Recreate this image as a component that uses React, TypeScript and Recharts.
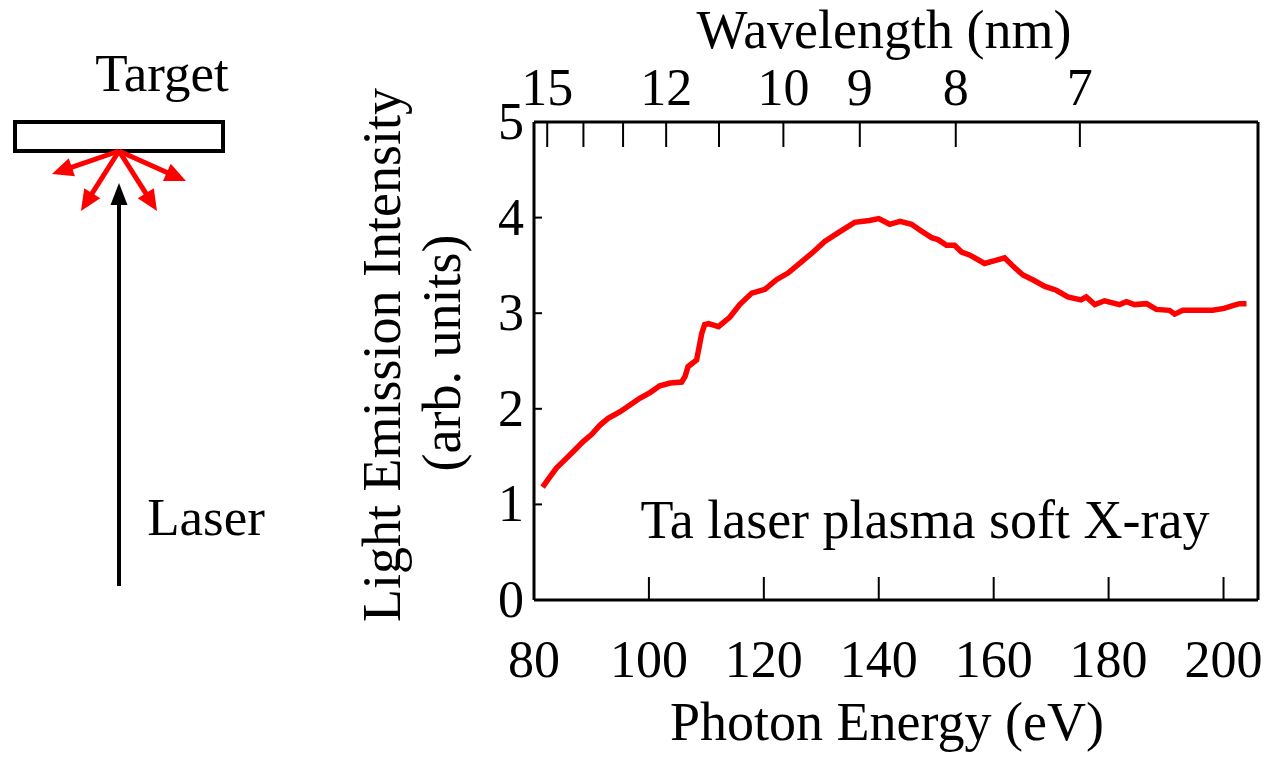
import { LineChart, Line, XAxis, YAxis, Customized } from 'recharts';

// photon energy (eV) and emission intensity (arb. units) of the Ta plasma spectrum
const energy = [
  81.5, 82.8, 83.9, 85.1, 86.8, 88.6, 90.0, 91.5, 92.9, 95.0, 96.7, 98.4, 100.2, 101.9, 103.7,
  105.7, 106.3, 106.8, 108.3, 109.2, 109.7, 110.4, 112.1, 114.1, 115.8, 117.9, 120.2, 122.2,
  124.2, 126.6, 128.6, 130.6, 132.9, 135.8, 138.4, 140.0, 141.9, 143.7, 145.7, 147.4, 149.2,
  150.3, 151.8, 153.2, 154.4, 155.8, 158.4, 160.2, 161.9, 163.4, 165.1, 166.8, 168.9, 170.9,
  172.9, 175.2, 176.1, 177.6, 179.3, 181.9, 183.1, 184.5, 186.6, 188.3, 190.6, 191.5, 192.9,
  195.8, 198.1, 200.1, 201.6, 202.8, 204.0,
];
const intensity = [
  1.18, 1.29, 1.38, 1.45, 1.55, 1.66, 1.73, 1.83, 1.9, 1.97, 2.04, 2.11, 2.17, 2.24, 2.27,
  2.28, 2.34, 2.44, 2.51, 2.79, 2.88, 2.89, 2.86, 2.96, 3.09, 3.21, 3.25, 3.35,
  3.42, 3.54, 3.64, 3.75, 3.84, 3.95, 3.97, 3.99, 3.93, 3.96, 3.93, 3.86, 3.79,
  3.77, 3.71, 3.71, 3.64, 3.61, 3.52, 3.55, 3.58, 3.49, 3.4, 3.35, 3.28, 3.24,
  3.17, 3.14, 3.17, 3.09, 3.13, 3.09, 3.12, 3.09, 3.1, 3.04, 3.03, 2.99, 3.03,
  3.03, 3.03, 3.05, 3.08, 3.1, 3.1,
];

const energyTicks = [80, 100, 120, 140, 160, 180, 200];
const intensityTicks = [0, 1, 2, 3, 4, 5];
// wavelength ticks on the top axis (nm) and where they sit on the energy scale (eV);
// only some of them carry a label
const wavelengthTicks = [15, 14, 13, 12, 11, 10, 9, 8, 7];
const wavelengthTickEnergy = [82.3, 88.6, 95.5, 103.0, 112.2, 123.4, 136.7, 153.4, 175.0];
const wavelengthLabels = [15, 12, 10, 9, 8, 7];

const data = energy.map((e, i) => ({ e, v: intensity[i] }));

const FONT = '"Liberation Serif", "Times New Roman", serif';
const FS = 52;
const TITLE_FS = 54;

const BottomTick = (props: any) => {
  const { x, y, payload } = props;
  return (
    <g>
      <line x1={x} y1={y} x2={x} y2={y - 23} stroke="#000" strokeWidth={2} />
      <text x={x} y={y + 77} textAnchor="middle" fontFamily={FONT} fontSize={FS} fill="#000">
        {payload.value}
      </text>
    </g>
  );
};

const TopTick = (props: any) => {
  const { x, y, payload } = props;
  const w = wavelengthTicks[wavelengthTickEnergy.indexOf(payload.value)];
  return (
    <g>
      <line x1={x} y1={y} x2={x} y2={y + 25} stroke="#000" strokeWidth={2} />
      {wavelengthLabels.includes(w) && (
        <text x={x} y={y - 17} textAnchor="middle" fontFamily={FONT} fontSize={FS} fill="#000">
          {w}
        </text>
      )}
    </g>
  );
};

const LeftTick = (props: any) => {
  const { x, y, payload } = props;
  return (
    <g>
      <line x1={x} y1={y} x2={x + 8} y2={y} stroke="#000" strokeWidth={2} />
      <text x={x - 10} y={y + 17} textAnchor="end" fontFamily={FONT} fontSize={FS} fill="#000">
        {payload.value}
      </text>
    </g>
  );
};

const Titles = () => (
  <g fontFamily={FONT} fontSize={TITLE_FS} fill="#000">
    <text x={884} y={48} textAnchor="middle">Wavelength (nm)</text>
    <text x={887} y={740} textAnchor="middle">Photon Energy (eV)</text>
    <text x={400} y={355} textAnchor="middle" transform="rotate(-90 400 355)">
      Light Emission Intensity
    </text>
    <text x={460} y={353} textAnchor="middle" transform="rotate(-90 460 353)">
      (arb. units)
    </text>
    <text x={925} y={538} textAnchor="middle">Ta laser plasma soft X-ray</text>
  </g>
);

// straight arrow with a filled triangular head
function Arrow({ x1, y1, x2, y2, color, width, head, headW }: any) {
  const dx = x2 - x1;
  const dy = y2 - y1;
  const len = Math.hypot(dx, dy);
  const ux = dx / len;
  const uy = dy / len;
  const bx = x2 - ux * head;
  const by = y2 - uy * head;
  const px = -uy * (headW / 2);
  const py = ux * (headW / 2);
  return (
    <g>
      <line x1={x1} y1={y1} x2={bx + ux * 2} y2={by + uy * 2} stroke={color} strokeWidth={width} />
      <polygon points={`${x2},${y2} ${bx + px},${by + py} ${bx - px},${by - py}`} fill={color} />
    </g>
  );
}

const Setup = () => (
  <svg
    width={1270}
    height={758}
    style={{ position: 'absolute', left: 0, top: 0, pointerEvents: 'none' }}
  >
    <text x={162} y={91} textAnchor="middle" fontFamily={FONT} fontSize={53} fill="#000">
      Target
    </text>
    <rect x={15} y={122} width={208} height={29} fill="none" stroke="#000" strokeWidth={4} />
    <Arrow x1={119} y1={151} x2={52} y2={174} color="#ff0000" width={5} head={21} headW={19} />
    <Arrow x1={119} y1={151} x2={81} y2={211} color="#ff0000" width={5} head={21} headW={19} />
    <Arrow x1={119} y1={151} x2={157} y2={211} color="#ff0000" width={5} head={21} headW={19} />
    <Arrow x1={119} y1={151} x2={186} y2={181} color="#ff0000" width={5} head={21} headW={19} />
    <Arrow x1={119} y1={586} x2={119} y2={183} color="#000" width={4} head={22} headW={17} />
    <text x={206} y={535} textAnchor="middle" fontFamily={FONT} fontSize={53} fill="#000">
      Laser
    </text>
  </svg>
);

export default function App() {
  return (
    <div style={{ position: 'absolute', left: 0, top: 0, width: 1270, height: 758, background: '#fff' }}>
      <LineChart width={1270} height={758} data={data} margin={{ top: 0, right: 0, bottom: 0, left: 0 }}>
        <XAxis
          xAxisId="bottom"
          dataKey="e"
          type="number"
          domain={[80, 206]}
          ticks={energyTicks}
          interval={0}
          allowDataOverflow
          height={158}
          tickSize={0}
          tickMargin={0}
          tickLine={false}
          axisLine={{ stroke: '#000', strokeWidth: 3 }}
          tick={<BottomTick />}
        />
        <XAxis
          xAxisId="top"
          dataKey="e"
          orientation="top"
          type="number"
          domain={[80, 206]}
          ticks={wavelengthTickEnergy}
          interval={0}
          allowDataOverflow
          height={122}
          tickSize={0}
          tickMargin={0}
          tickLine={false}
          axisLine={{ stroke: '#000', strokeWidth: 3 }}
          tick={<TopTick />}
        />
        <YAxis
          yAxisId="left"
          type="number"
          domain={[0, 5]}
          ticks={intensityTicks}
          interval={0}
          width={534}
          tickSize={0}
          tickMargin={0}
          tickLine={false}
          axisLine={{ stroke: '#000', strokeWidth: 3 }}
          tick={<LeftTick />}
        />
        <YAxis
          yAxisId="right"
          orientation="right"
          type="number"
          domain={[0, 5]}
          width={12}
          tick={false}
          tickLine={false}
          axisLine={{ stroke: '#000', strokeWidth: 3 }}
        />
        {/* invisible copy that ties the wavelength axis to the same energy scale */}
        <Line
          xAxisId="top"
          yAxisId="right"
          dataKey="v"
          stroke="none"
          dot={false}
          activeDot={false}
          legendType="none"
          isAnimationActive={false}
        />
        <Line
          xAxisId="bottom"
          yAxisId="left"
          dataKey="v"
          type="linear"
          stroke="#ff0000"
          strokeWidth={5.5}
          dot={false}
          isAnimationActive={false}
        />
        <Customized component={Titles} />
      </LineChart>
      <Setup />
    </div>
  );
}
